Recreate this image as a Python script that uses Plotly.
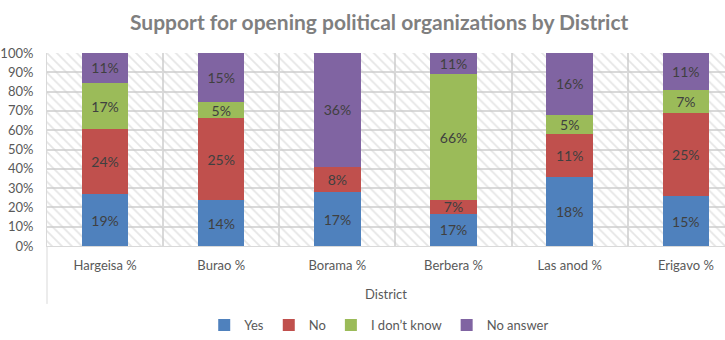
import plotly.graph_objects as go

districts = ["Hargeisa %", "Burao %", "Borama %", "Berbera %", "Las anod %", "Erigavo %"]
series_names = ["Yes", "No", "I don\u2019t know", "No answer"]
yes_vals = [19, 14, 17, 17, 18, 15]
no_vals = [24, 25, 8, 7, 11, 25]
idk_vals = [17, 5, 0, 66, 5, 7]
noans_vals = [11, 15, 36, 11, 16, 11]
colors = ["#4F81BD", "#C0504D", "#9BBB59", "#8064A2"]

FONT = "Lato"
fig = go.Figure()

# hatched plot-area background (base axes)
fig.add_trace(go.Bar(
    x=districts, y=[1] * len(districts), width=1,
    marker=dict(color="rgba(0,0,0,0)", line=dict(width=0),
                pattern=dict(shape="\\", fgcolor="#cccccc", bgcolor="rgba(0,0,0,0)",
                             size=7, solidity=0.25)),
    hoverinfo="skip", showlegend=False, xaxis="x", yaxis="y"))

for name, vals, col in zip(series_names, [yes_vals, no_vals, idk_vals, noans_vals], colors):
    fig.add_trace(go.Bar(
        name=name, x=districts, y=vals,
        text=[f"{v}%" if v else "" for v in vals],
        texttemplate="%{text}",
        textposition="inside", insidetextanchor="middle", textangle=0,
        constraintext="none",
        textfont=dict(family=FONT, size=14, color="#404040"),
        marker=dict(color=col, line=dict(width=0)),
        xaxis="x2", yaxis="y2"))

xr = [-0.5, 5.337]
fig.update_layout(
    width=725, height=340,
    margin=dict(l=45, r=0, t=53, b=93),
    paper_bgcolor="white", plot_bgcolor="white",
    font=dict(family=FONT, color="#595959"),
    barmode="stack", barnorm="percent", bargap=0.6,
    title=dict(text="<b>Support for opening political organizations by District</b>",
               x=0.523, xanchor="center", y=0.932, yanchor="middle",
               font=dict(family=FONT, size=21, color="#7f7f7f")),
    xaxis=dict(type="category", categoryarray=districts, range=xr,
               tickson="boundaries", showgrid=True, gridcolor="#d9d9d9", gridwidth=1.5,
               ticks="", showline=True, linecolor="#d9d9d9", linewidth=1,
               tickfont=dict(size=13, color="#595959"), ticklabelstandoff=7,
               title=dict(text="District", font=dict(size=13, color="#595959"), standoff=18),
               fixedrange=True),
    yaxis=dict(range=[0, 100], dtick=10, ticksuffix="%", showgrid=True,
               gridcolor="#d9d9d9", gridwidth=1.5, showline=True, linecolor="#d9d9d9",
               zeroline=False, tickfont=dict(size=13, color="#595959"), ticks="",
               ticklabelstandoff=10),
    xaxis2=dict(type="category", categoryarray=districts, range=xr, overlaying="x",
                visible=False),
    yaxis2=dict(range=[0, 100], overlaying="y", visible=False),
    legend=dict(orientation="h", x=0.49, xanchor="center", y=-0.412, yanchor="middle",
                traceorder="normal", font=dict(size=13, color="#595959"),
                itemwidth=30),
    shapes=[dict(type="line", xref="paper", yref="paper", x0=0, x1=0, y0=-0.3, y1=0,
                 line=dict(color="#d9d9d9", width=1))],
)

fig.write_html("out.html")
